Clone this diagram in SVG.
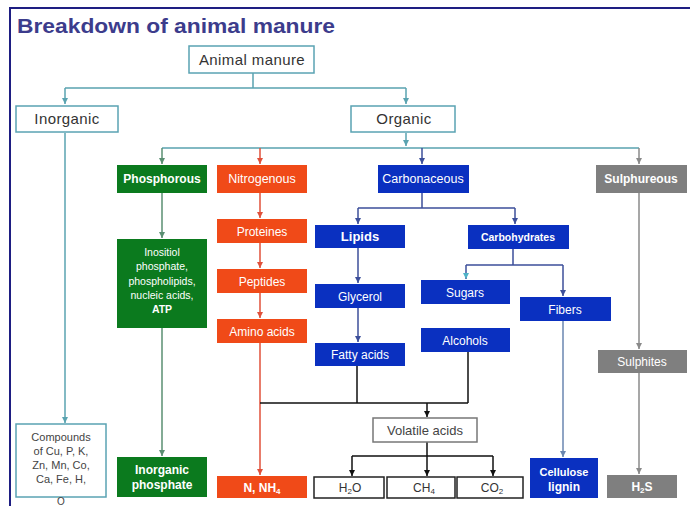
<svg xmlns="http://www.w3.org/2000/svg" width="690" height="506" viewBox="0 0 690 506">
<style>
text{font-family:"Liberation Sans",Arial,sans-serif;text-anchor:middle}
.lt{fill:#fff;stroke:#5aa3b3;stroke-width:1.5}
.lt-t{fill:#333;font-size:15px;letter-spacing:0.4px}
.gr{fill:#0b7a1e}.rd{fill:#f04a18}.bl{fill:#0a30c0}.gy{fill:#7f7f7f}
.wt{fill:#fff;font-size:12px}
.wb{fill:#fff;font-size:12px;font-weight:bold}
.wh{fill:#fff;stroke:#222;stroke-width:1.5}
.dk{fill:#333;font-size:12px}
.c{fill:none;stroke-width:1.5}
.teal{stroke:#5aa3b0}.tg{stroke:#5a8f72}.red{stroke:#e0503a}.blu{stroke:#3d4f9a}.blk{stroke:#111}.gry{stroke:#8a8a8a}.fib{stroke:#6a86b0}
</style>
<defs>
<marker id="aT" markerUnits="userSpaceOnUse" markerWidth="7" markerHeight="7" refX="6" refY="3" orient="auto"><path d="M0,0 L6,3 L0,6 z" fill="#5aa3b0"/></marker>
<marker id="aG" markerUnits="userSpaceOnUse" markerWidth="7" markerHeight="7" refX="6" refY="3" orient="auto"><path d="M0,0 L6,3 L0,6 z" fill="#5a8f72"/></marker>
<marker id="aR" markerUnits="userSpaceOnUse" markerWidth="7" markerHeight="7" refX="6" refY="3" orient="auto"><path d="M0,0 L6,3 L0,6 z" fill="#e0503a"/></marker>
<marker id="aB" markerUnits="userSpaceOnUse" markerWidth="7" markerHeight="7" refX="6" refY="3" orient="auto"><path d="M0,0 L6,3 L0,6 z" fill="#3d4f9a"/></marker>
<marker id="aC" markerUnits="userSpaceOnUse" markerWidth="7" markerHeight="7" refX="6" refY="3" orient="auto"><path d="M0,0 L6,3 L0,6 z" fill="#4fb3c8"/></marker>
<marker id="aK" markerUnits="userSpaceOnUse" markerWidth="7" markerHeight="7" refX="6" refY="3" orient="auto"><path d="M0,0 L6,3 L0,6 z" fill="#111"/></marker>
<marker id="aY" markerUnits="userSpaceOnUse" markerWidth="7" markerHeight="7" refX="6" refY="3" orient="auto"><path d="M0,0 L6,3 L0,6 z" fill="#8a8a8a"/></marker>
<marker id="aF" markerUnits="userSpaceOnUse" markerWidth="7" markerHeight="7" refX="6" refY="3" orient="auto"><path d="M0,0 L6,3 L0,6 z" fill="#6a86b0"/></marker>
</defs>
<rect x="0" y="0" width="690" height="506" fill="#fff"/>
<path d="M10,506 V8 H690" fill="none" stroke="#1e1e82" stroke-width="2"/>
<text x="17" y="33" style="text-anchor:start;font-size:21px;font-weight:bold;fill:#3c3c8c" textLength="318" lengthAdjust="spacingAndGlyphs">Breakdown of animal manure</text>

<g id="connectors">
<path class="c teal" d="M253,73 V88 M65,88 H406 M162,148 H639"/>
<path class="c teal" d="M65,88 V104" marker-end="url(#aT)"/>
<path class="c teal" d="M406,88 V104" marker-end="url(#aT)"/>
<path class="c teal" d="M406,133 V146" marker-end="url(#aT)"/>
<path class="c teal" d="M65,133 V423" marker-end="url(#aT)"/>
<path class="c tg" d="M162,148 V164" marker-end="url(#aG)"/>
<path class="c red" d="M260,148 V164" marker-end="url(#aR)"/>
<path class="c blu" d="M422,148 V164" marker-end="url(#aB)"/>
<path class="c gry" d="M639,148 V164" marker-end="url(#aY)"/>
<path class="c tg" d="M162,193 V238" marker-end="url(#aG)"/>
<path class="c tg" d="M162,328 V456" marker-end="url(#aG)"/>
<path class="c red" d="M260,193 V218" marker-end="url(#aR)"/>
<path class="c red" d="M260,243 V268" marker-end="url(#aR)"/>
<path class="c red" d="M260,293 V318" marker-end="url(#aR)"/>
<path class="c red" d="M260,343 V475" marker-end="url(#aR)"/>
<path class="c blu" d="M422,193 V208 M358,208 H515 M513,249 V265 M466,265 H563"/>
<path class="c blu" d="M358,208 V224" marker-end="url(#aB)"/>
<path class="c blu" d="M515,208 V224" marker-end="url(#aB)"/>
<path class="c blu" d="M358,248 V283" marker-end="url(#aB)"/>
<path class="c blu" d="M358,308 V342" marker-end="url(#aB)"/>
<path class="c blu" d="M466,265 V279" marker-end="url(#aC)"/>
<path class="c blu" d="M563,265 V296" marker-end="url(#aB)"/>
<path class="c fib" d="M563,321 V457" marker-end="url(#aF)"/>
<path class="c blk" d="M260,403 H468 M357,366 V403 M468,352 V403 M427,442 V456 M352,456 H493"/>
<path class="c blk" d="M427,403 V417" marker-end="url(#aK)"/>
<path class="c blk" d="M352,456 V476" marker-end="url(#aK)"/>
<path class="c blk" d="M427,456 V476" marker-end="url(#aK)"/>
<path class="c blk" d="M493,456 V476" marker-end="url(#aK)"/>
<path class="c gry" d="M639,193 V349" marker-end="url(#aY)"/>
<path class="c gry" d="M639,373 V474" marker-end="url(#aY)"/>
</g>

<g id="animal-manure"><rect class="lt" x="189" y="46" width="125" height="27"/><text class="lt-t" x="252" y="65">Animal manure</text></g>
<g id="inorganic"><rect class="lt" x="16" y="106" width="102" height="26"/><text class="lt-t" x="67" y="124">Inorganic</text></g>
<g id="organic"><rect class="lt" x="351" y="106" width="104" height="26"/><text class="lt-t" x="404" y="124">Organic</text></g>

<g id="phosphorous"><rect class="gr" x="117" y="165" width="90" height="28"/><text class="wb" x="162" y="183">Phosphorous</text></g>
<g id="nitrogenous"><rect class="rd" x="217" y="165" width="90" height="28"/><text class="wt" x="262" y="183" style="font-size:12.5px">Nitrogenous</text></g>
<g id="carbonaceous"><rect class="bl" x="378" y="165" width="91" height="28"/><text class="wt" x="423" y="183" style="font-size:12.5px">Carbonaceous</text></g>
<g id="sulphureous"><rect class="gy" x="596" y="165" width="91" height="28"/><text class="wb" x="641" y="183">Sulphureous</text></g>

<g id="inositiol"><rect class="gr" x="117" y="239" width="90" height="89"/>
<text class="wt" style="font-size:10.5px" x="162" y="256">Inositiol</text>
<text class="wt" style="font-size:10.5px" x="162" y="270">phosphate,</text>
<text class="wt" style="font-size:10.5px" x="162" y="285">phospholipids,</text>
<text class="wt" style="font-size:10.5px" x="162" y="299">nucleic acids,</text>
<text class="wb" style="font-size:10.5px" x="162" y="313">ATP</text></g>
<g id="inorganic-phosphate"><rect class="gr" x="117" y="457" width="90" height="40"/><text class="wb" x="162" y="474">Inorganic</text><text class="wb" x="162" y="489">phosphate</text></g>

<g id="proteines"><rect class="rd" x="217" y="219" width="90" height="24"/><text class="wt" x="262" y="236">Proteines</text></g>
<g id="peptides"><rect class="rd" x="217" y="269" width="90" height="24"/><text class="wt" x="262" y="286">Peptides</text></g>
<g id="amino-acids"><rect class="rd" x="217" y="319" width="90" height="24"/><text class="wt" x="262" y="336">Amino acids</text></g>
<g id="n-nh4"><rect class="rd" x="217" y="476" width="90" height="22"/><text class="wb" x="262" y="492">N, NH<tspan style="font-size:8px" dy="2">4</tspan></text></g>

<g id="lipids"><rect class="bl" x="315" y="225" width="90" height="23"/><text class="wb" x="360" y="241" style="font-size:13px">Lipids</text></g>
<g id="carbohydrates"><rect class="bl" x="468" y="225" width="101" height="24"/><text class="wb" x="518" y="241" style="font-size:10.5px">Carbohydrates</text></g>
<g id="glycerol"><rect class="bl" x="315" y="284" width="90" height="24"/><text class="wt" x="360" y="301">Glycerol</text></g>
<g id="fatty-acids"><rect class="bl" x="315" y="343" width="90" height="23"/><text class="wt" x="360" y="359">Fatty acids</text></g>
<g id="sugars"><rect class="bl" x="421" y="280" width="89" height="24"/><text class="wt" x="465" y="297">Sugars</text></g>
<g id="alcohols"><rect class="bl" x="421" y="328" width="89" height="24"/><text class="wt" x="465" y="345">Alcohols</text></g>
<g id="fibers"><rect class="bl" x="520" y="297" width="91" height="24"/><text class="wt" x="565" y="314">Fibers</text></g>
<g id="cellulose-lignin"><rect class="bl" x="530" y="458" width="68" height="40"/><text class="wb" x="564" y="476" style="font-size:11px">Cellulose</text><text class="wb" x="564" y="491">lignin</text></g>

<g id="volatile-acids"><rect fill="#fff" stroke="#777" stroke-width="1.5" x="373" y="418" width="104" height="24"/><text class="dk" x="425" y="435" style="font-size:13px;fill:#444">Volatile acids</text></g>
<g id="h2o"><rect class="wh" x="314" y="477" width="70" height="21"/><text class="dk" x="350" y="492">H<tspan style="font-size:8px" dy="2">2</tspan><tspan dy="-2">O</tspan></text></g>
<g id="ch4"><rect class="wh" x="387" y="477" width="68" height="21"/><text class="dk" x="424" y="492">CH<tspan style="font-size:8px" dy="2">4</tspan></text></g>
<g id="co2"><rect class="wh" x="457" y="477" width="66" height="21"/><text class="dk" x="492" y="492">CO<tspan style="font-size:8px" dy="2">2</tspan></text></g>

<g id="sulphites"><rect class="gy" x="598" y="350" width="89" height="23"/><text class="wt" x="642" y="366">Sulphites</text></g>
<g id="h2s"><rect class="gy" x="607" y="475" width="70" height="23"/><text class="wb" x="642" y="491">H<tspan style="font-size:8px" dy="2">2</tspan><tspan dy="-2">S</tspan></text></g>

<g id="compounds"><rect class="lt" x="16" y="424" width="90" height="73"/>
<text class="dk" style="font-size:11px;fill:#444" x="61" y="441">Compounds</text>
<text class="dk" style="font-size:11px;fill:#444" x="61" y="455">of Cu, P, K,</text>
<text class="dk" style="font-size:11px;fill:#444" x="61" y="469">Zn, Mn, Co,</text>
<text class="dk" style="font-size:11px;fill:#444" x="61" y="483">Ca, Fe, H,</text>
<text class="dk" style="font-size:10px;fill:#444" x="61" y="505">O</text></g>
</svg>
